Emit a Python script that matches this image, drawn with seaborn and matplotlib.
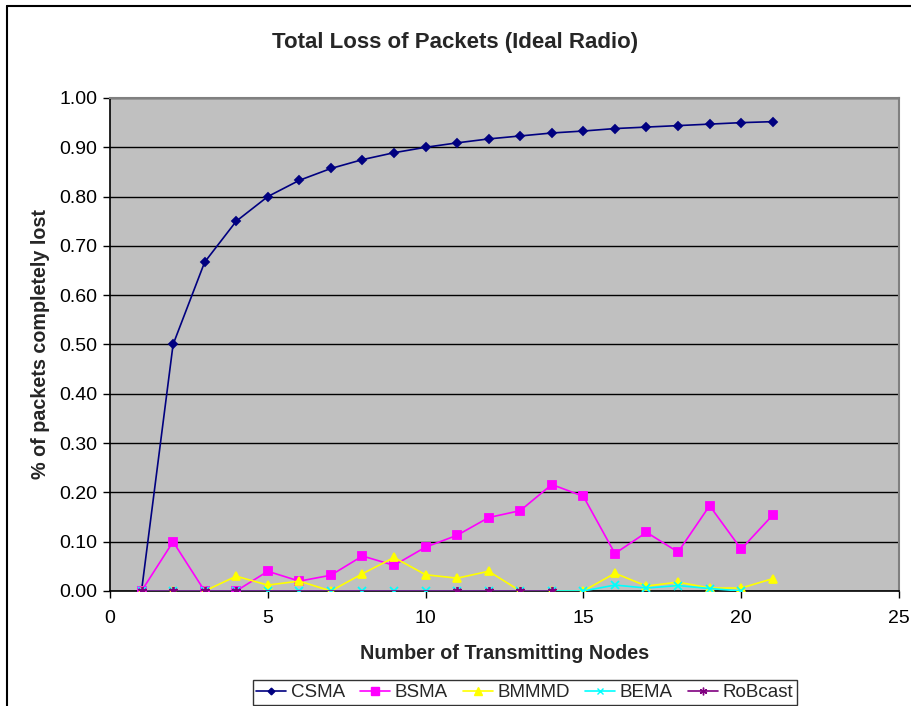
import numpy as np
import pandas as pd
import matplotlib
matplotlib.use("Agg")
import matplotlib.pyplot as plt
from matplotlib.lines import Line2D
import seaborn as sns

# Number of transmitting nodes
nodes = list(range(1, 22))

# Fraction of packets completely lost per protocol
csma = [0.0, 0.500, 0.667, 0.750, 0.800, 0.833, 0.857, 0.875, 0.889, 0.900,
        0.909, 0.917, 0.923, 0.929, 0.933, 0.938, 0.941, 0.944, 0.947, 0.950, 0.952]
bsma = [0.0, 0.100, 0.0, 0.0, 0.040, 0.020, 0.032, 0.071, 0.052, 0.089,
        0.113, 0.149, 0.163, 0.216, 0.192, 0.076, 0.119, 0.079, 0.173, 0.085, 0.154]
bmmmd = [0.0, 0.0, 0.0, 0.030, 0.012, 0.020, 0.0, 0.035, 0.068, 0.033,
         0.026, 0.040, 0.0, 0.0, 0.0, 0.036, 0.010, 0.018, 0.006, 0.006, 0.025]
bema_nodes = list(range(1, 21))
bema = [0.0] * 15 + [0.012, 0.006, 0.011, 0.005, 0.0]
robcast_nodes = [1, 2, 3, 4, 11, 12, 13, 14]
robcast = [0.0] * 8

series = [
    ("CSMA", nodes, csma, "#000080", "D", 4.0),
    ("BSMA", nodes, bsma, "#FF00FF", "s", 6.0),
    ("BMMMD", nodes, bmmmd, "#FFFF00", "^", 6.0),
    ("BEMA", bema_nodes, bema, "#00FFFF", "x", 5.5),
    ("RoBcast", robcast_nodes, robcast, "#800080", (6, 2, 0), 6.5),
]

sns.set_theme(style="white")
plt.rcParams["font.family"] = ["Liberation Sans", "DejaVu Sans"]

fig = plt.figure(figsize=(9.11, 7.06), dpi=100)
ax = fig.add_axes([0.1207, 0.1629, 0.8661, 0.6983])
ax.set_facecolor("#C0C0C0")

for name, xs, ys, col, mk, ms in series:
    df = pd.DataFrame({"x": xs, "y": ys})
    sns.lineplot(data=df, x="x", y="y", ax=ax, color=col, marker=mk,
                 markersize=ms, markeredgecolor=col, markerfacecolor=col,
                 markeredgewidth=1.3, linewidth=1.2, label=name, legend=False,
                 zorder=3)

ax.set_xlim(0, 25)
ax.set_ylim(0, 1.0)
ax.set_xticks(np.arange(0, 26, 5))
ax.set_yticks(np.arange(0, 1.01, 0.1))
ax.set_yticklabels([f"{v:.2f}" for v in np.arange(0, 1.01, 0.1)])
ax.yaxis.grid(True, color="black", linewidth=1.0)
ax.xaxis.grid(False)
ax.set_axisbelow(True)

for side in ("top", "right"):
    ax.spines[side].set_color("#808080")
    ax.spines[side].set_linewidth(1.5)
ax.spines["left"].set_color("black")
ax.spines["bottom"].set_color("black")
ax.spines["left"].set_linewidth(1.2)
ax.spines["bottom"].set_linewidth(1.2)

ax.tick_params(axis="both", which="major", direction="out", length=5,
               width=1, color="black", labelsize=14, labelcolor="black",
               bottom=True, left=True)
ax.tick_params(axis="x", pad=9)
ax.tick_params(axis="y", pad=4)

ax.set_xlabel("Number of Transmitting Nodes", fontsize=14.2, fontweight="bold",
              labelpad=12)
ax.set_ylabel("% of packets completely lost", fontsize=14.2, fontweight="bold",
              labelpad=7)

fig.text(0.5, 0.9405, "Total Loss of Packets (Ideal Radio)", ha="center",
         va="center", fontsize=16, fontweight="bold")

handles = [Line2D([0], [0], color=col, marker=mk, markersize=ms * 0.85,
                  markeredgecolor=col, markerfacecolor=col, linewidth=1.2)
           for name, xs, ys, col, mk, ms in series]
labels = [s[0] for s in series]
leg = fig.legend(handles, labels, loc="center", bbox_to_anchor=(0.576, 0.019),
                 ncol=5, frameon=True, fontsize=13.5, handlelength=1.6,
                 handletextpad=0.25, columnspacing=0.8, borderpad=0.2,
                 fancybox=False, edgecolor="black")
leg.get_frame().set_linewidth(1.0)

# Outer chart border along the top and left edges
fig.add_artist(Line2D([0.0077, 1.0], [0.9915, 0.9915], transform=fig.transFigure,
                      color="black", linewidth=1.5))
fig.add_artist(Line2D([0.0077, 0.0077], [0.0, 0.9915], transform=fig.transFigure,
                      color="black", linewidth=1.5))

fig.savefig("out.png", dpi=100, facecolor="white")
